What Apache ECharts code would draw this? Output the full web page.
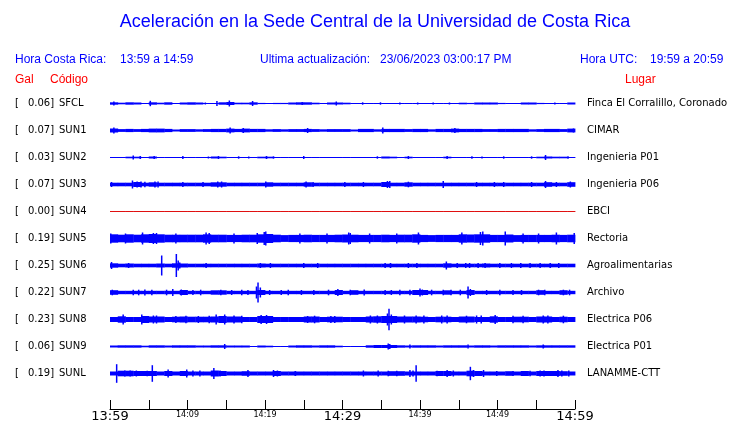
<!DOCTYPE html>
<html>
<head>
<meta charset="utf-8">
<script src="https://cdn.jsdelivr.net/npm/echarts@6/dist/echarts.min.js"></script>
<style>
  html, body { margin: 0; padding: 0; background: #fff; }
  #chart { width: 740px; height: 423px; }
</style>
</head>
<body>
<div id="chart"></div>
<script>
// estaciones (de arriba hacia abajo)
const codes = ['SFCL', 'SUN1', 'SUN2', 'SUN3', 'SUN4', 'SUN5', 'SUN6', 'SUN7', 'SUN8', 'SUN9', 'SUNL'];
const places = ['Finca El Corralillo, Coronado', 'CIMAR', 'Ingenieria P01', 'Ingenieria P06', 'EBCI', 'Rectoria',
  'Agroalimentarias', 'Archivo', 'Electrica P06', 'Electrica P01', 'LANAMME-CTT'];
const gal = ['0.06', '0.07', '0.03', '0.07', '0.00', '0.19', '0.25', '0.22', '0.23', '0.06', '0.19'];

// minutos desde 13:59, ticks cada 5 min
const tickMinutes = [0, 5, 10, 15, 20, 25, 30, 35, 40, 45, 50, 55, 60];
const tickLabels = { 0: '13:59', 10: '14:09', 20: '14:19', 30: '14:29', 40: '14:39', 50: '14:49', 60: '14:59' };
const bigLabels = [0, 30, 60];

// envolvente (semi-amplitud) por minuto, 60 valores por estacion
const envSFCL = [1.2, 0.8, 1.2, 1.0, 0, 1.2, 0.8, 1.2, 0, 1.0, 1.2, 1.0, 0, 0.4, 1.2, 1.5, 0.8, 0.8, 1.2, 0.6,
  0, 0.6, 0.6, 1.0, 1.2, 1.2, 0.8, 0, 1.0, 1.0, 0.8, 0, 0, 0, 0, 0, 0, 0, 0, 0,
  0, 0, 0, 0, 0, 0.8, 0.6, 1.0, 1.0, 1.0, 0.6, 0, 0, 1.0, 1.0, 0.6, 0, 0, 0, 1.0];
const envSUN1 = [2.0, 1.4, 1.6, 1.4, 1.6, 1.9, 1.9, 1.6, 1.0, 1.4, 1.4, 1.2, 1.4, 1.6, 1.6, 1.9, 1.6, 1.9, 1.6, 1.6,
  1.2, 1.4, 1.2, 1.4, 1.4, 1.6, 1.4, 1.2, 1.4, 1.4, 1.4, 1.0, 1.6, 1.6, 1.2, 1.6, 1.6, 1.6, 1.4, 1.6,
  1.6, 1.2, 1.6, 1.6, 1.9, 1.6, 1.6, 1.6, 1.4, 1.4, 1.6, 1.6, 1.6, 1.6, 1.2, 1.4, 1.6, 1.6, 1.4, 1.9];
const envSUN2 = [0, 0, 0.8, 0.8, 0, 1.0, 0, 0, 0, 0.5, 0, 0, 0, 1.0, 0.8, 0, 0.5, 0, 0, 0.8,
  0.8, 0, 0, 0, 0, 0, 0, 0, 0, 0, 0, 0, 0, 0, 0, 1.0, 0.8, 0, 0.8, 0.5,
  0.5, 0, 0, 0.8, 0.5, 0, 0, 0, 0.5, 0, 0, 0, 0, 0, 0, 0.8, 1.0, 0.8, 0.8, 0];
const envSUN3 = [1.8, 1.8, 1.8, 2.5, 1.8, 2.2, 1.8, 1.8, 1.8, 1.8, 1.8, 1.8, 1.8, 2.2, 2.2, 1.8, 1.8, 1.8, 1.8, 1.8,
  2.2, 1.8, 1.8, 1.8, 1.8, 2.2, 1.8, 1.8, 1.8, 1.8, 1.8, 1.8, 1.8, 1.8, 1.8, 2.5, 1.8, 1.8, 2.2, 1.8,
  1.8, 1.8, 1.8, 1.8, 1.8, 1.8, 1.8, 1.8, 1.8, 1.8, 1.8, 1.8, 1.8, 1.8, 1.8, 1.8, 2.3, 1.8, 1.8, 2.3];
const envSUN4 = [0, 0, 0, 0, 0, 0, 0, 0, 0, 0, 0, 0, 0, 0, 0, 0, 0, 0, 0, 0,
  0, 0, 0, 0, 0, 0, 0, 0, 0, 0, 0, 0, 0, 0, 0, 0, 0, 0, 0, 0,
  0, 0, 0, 0, 0, 0, 0, 0, 0, 0, 0, 0, 0, 0, 0, 0, 0, 0, 0, 0];
const envSUN5 = [4.2, 3.8, 4.2, 3.8, 4.2, 4.5, 4.2, 3.8, 3.8, 3.8, 3.8, 3.8, 4.2, 3.8, 3.8, 3.6, 3.6, 3.8, 3.8, 4.2,
  4.5, 3.8, 3.4, 3.6, 3.6, 3.8, 3.6, 3.6, 3.6, 3.8, 4.0, 3.8, 3.6, 3.6, 3.6, 3.8, 3.6, 3.8, 3.8, 4.2,
  3.6, 3.4, 3.6, 3.6, 3.6, 4.2, 4.0, 4.2, 4.2, 3.6, 3.6, 4.0, 3.4, 3.6, 3.6, 3.6, 3.6, 3.8, 3.6, 3.8];
const envSUN6 = [2.2, 1.8, 2.0, 1.8, 1.8, 1.8, 2.0, 1.8, 2.2, 2.0, 1.8, 1.8, 1.8, 1.8, 1.8, 1.8, 1.8, 1.8, 1.8, 2.0,
  1.8, 1.8, 1.8, 1.8, 1.8, 1.8, 1.8, 1.8, 1.8, 1.8, 1.8, 1.8, 1.8, 1.8, 1.8, 1.8, 1.8, 1.8, 1.8, 1.8,
  1.8, 1.8, 1.8, 2.2, 1.8, 1.8, 1.8, 1.8, 2.0, 1.8, 1.8, 1.8, 1.8, 1.8, 1.8, 1.8, 1.8, 1.8, 1.8, 1.8];
const envSUN7 = [2.3, 1.7, 1.7, 1.7, 1.7, 1.7, 1.7, 1.7, 1.7, 2.5, 1.7, 1.7, 1.7, 2.2, 2.2, 1.7, 1.7, 1.7, 1.7, 2.5,
  1.7, 1.7, 1.7, 1.7, 1.7, 1.7, 1.7, 1.7, 1.7, 2.5, 1.7, 2.3, 1.7, 1.7, 1.7, 1.7, 1.7, 1.7, 1.7, 2.5,
  2.5, 1.7, 1.7, 2.2, 1.7, 1.7, 2.5, 1.7, 1.7, 1.7, 1.7, 1.7, 1.7, 1.7, 1.7, 2.3, 1.7, 1.7, 2.3, 1.7];
const envSUN8 = [2.5, 3.2, 2.5, 2.5, 3.5, 3.0, 3.0, 2.5, 2.8, 3.0, 2.8, 2.8, 2.8, 3.0, 3.5, 3.0, 3.0, 2.5, 2.5, 3.5,
  3.5, 2.5, 2.5, 2.5, 2.5, 3.0, 3.0, 2.5, 2.8, 2.8, 2.5, 2.5, 2.5, 3.0, 3.2, 3.5, 3.5, 3.0, 3.0, 3.0,
  2.8, 2.5, 2.8, 2.8, 2.5, 3.0, 3.0, 2.5, 2.5, 3.2, 2.5, 2.5, 2.8, 2.8, 2.5, 3.0, 3.0, 2.5, 2.8, 2.5];
const envSUN9 = [1.0, 1.2, 1.2, 1.2, 0.8, 1.2, 1.2, 1.0, 1.2, 1.2, 1.2, 1.0, 1.0, 1.2, 1.2, 1.0, 1.0, 1.0, 0.5, 1.0,
  0.8, 0.5, 0.5, 1.0, 1.2, 1.2, 1.0, 1.2, 1.2, 0.8, 0.5, 0.3, 0.5, 1.2, 1.5, 1.5, 1.5, 1.2, 1.0, 1.2,
  1.2, 1.2, 1.0, 1.2, 1.2, 1.2, 1.0, 1.2, 1.2, 1.0, 1.2, 1.2, 1.2, 1.2, 1.0, 1.2, 1.2, 1.2, 1.2, 1.2];
const envSUNL = [2.0, 2.8, 2.8, 2.5, 2.5, 2.5, 2.0, 2.5, 2.0, 2.5, 2.0, 2.0, 2.0, 3.0, 2.5, 2.0, 2.0, 2.3, 2.0, 2.0,
  2.0, 2.5, 2.0, 2.0, 2.0, 2.0, 2.0, 2.0, 2.0, 2.0, 2.0, 2.0, 2.0, 2.0, 2.0, 2.0, 2.3, 2.3, 2.0, 2.0,
  2.0, 2.0, 2.5, 2.5, 2.0, 2.0, 2.8, 2.5, 2.0, 2.0, 2.0, 2.3, 2.0, 2.5, 2.0, 2.5, 2.5, 2.5, 2.3, 2.0];

// picos [minuto, semi-amplitud]
const pkSFCL = [[0.5, 2.0], [5.2, 2.7], [12.3, 1.0], [13.8, 2.5], [15.4, 3.0], [18.4, 2.5], [24.8, 1.5], [29.2, 2.0],
  [32.6, 1.2], [34.9, 1.2], [37.4, 1.0], [39.7, 1.0], [41.7, 1.0], [43.8, 1.0], [57.4, 1.0]];
const pkSUN1 = [[0.5, 3.0], [15.5, 3.0], [17.2, 2.5], [25.5, 2.5], [35.2, 3.0], [44.5, 2.5], [59.8, 2.0]];
const pkSUN2 = [[3.0, 2.0], [3.9, 1.5], [5.7, 1.5], [9.4, 1.5], [12.7, 1.0], [14.0, 1.5], [16.6, 1.2], [17.9, 1.0],
  [20.2, 1.5], [21.1, 1.2], [25.0, 1.5], [34.5, 1.2], [38.5, 1.5], [43.5, 1.5], [46.7, 1.2], [48.0, 1.0],
  [50.8, 1.2], [54.4, 1.2], [56.2, 2.5], [59.1, 1.2]];
const pkSUN3 = [[0.2, 2.5], [2.9, 4.0], [3.5, 3.0], [4.0, 3.0], [4.5, 2.8], [5.8, 3.0], [6.2, 3.0], [9.4, 2.5],
  [12.0, 2.5], [13.9, 3.0], [14.4, 3.0], [20.1, 3.0], [25.3, 3.0], [26.2, 2.5], [30.3, 2.5], [32.7, 2.5],
  [35.8, 3.5], [36.1, 3.5], [38.5, 2.8], [43.0, 3.5], [47.3, 2.5], [49.6, 2.5], [50.8, 2.5], [54.4, 2.5],
  [56.2, 3.5], [57.6, 2.5], [59.4, 3.0]];
const pkSUN4 = [];
const pkSUN5 = [[0.1, 5.0], [2.0, 5.0], [4.2, 6.0], [5.6, 5.5], [6.0, 5.5], [8.5, 5.0], [12.4, 6.0], [12.8, 5.5],
  [16.0, 5.0], [19.0, 5.5], [19.9, 6.5], [20.1, 7.0], [24.5, 5.0], [28.0, 5.0], [30.8, 6.0], [31.0, 5.5],
  [33.5, 5.0], [37.0, 5.0], [39.8, 6.0], [45.4, 6.0], [47.8, 6.5], [48.1, 7.0], [51.0, 7.0], [53.3, 5.0],
  [55.3, 5.0], [57.6, 6.0], [59.9, 5.5]];
const pkSUN6 = [[0.2, 3.5], [2.4, 2.5], [6.67, 10.0], [8.56, 11.5], [8.8, 5.0], [9.0, 3.0], [12.4, 2.5], [19.4, 2.5],
  [20.7, 2.5], [25.0, 2.5], [26.8, 2.5], [35.5, 2.5], [36.2, 2.5], [38.5, 2.5], [39.6, 2.5], [43.4, 4.0],
  [44.8, 2.5], [45.9, 2.5], [46.4, 2.5], [47.5, 2.5], [48.4, 2.5], [50.3, 2.5], [51.8, 2.5], [53.0, 2.5],
  [54.2, 2.5], [55.5, 2.5], [56.8, 2.5], [57.9, 2.5]];
const pkSUN7 = [[0.3, 2.8], [3.0, 2.8], [3.7, 2.8], [4.5, 3.0], [5.4, 2.8], [7.3, 2.8], [8.1, 3.5], [9.2, 3.0],
  [10.7, 2.5], [11.7, 2.8], [14.3, 2.8], [15.7, 2.5], [17.0, 2.8], [17.8, 2.5], [18.9, 6.0], [19.1, 10.0],
  [19.4, 5.0], [20.6, 2.5], [22.1, 2.5], [23.0, 2.8], [24.7, 2.5], [26.3, 2.5], [28.2, 2.8], [29.4, 3.5],
  [31.0, 2.8], [32.8, 3.0], [35.5, 2.5], [36.3, 2.5], [37.4, 2.8], [38.7, 2.8], [40.0, 4.0], [40.3, 3.0],
  [41.5, 2.8], [43.0, 2.8], [44.0, 2.8], [45.2, 2.8], [46.2, 6.0], [46.5, 3.5], [48.6, 2.5], [50.3, 2.8],
  [52.0, 2.5], [53.1, 2.5], [55.3, 2.8], [56.1, 2.8], [58.5, 2.8], [59.3, 2.8]];
const pkSUN8 = [[1.7, 5.0], [4.1, 5.0], [5.6, 4.0], [6.0, 4.0], [8.5, 3.5], [9.8, 3.8], [11.4, 3.5], [12.8, 3.8],
  [13.7, 5.0], [14.8, 5.0], [16.0, 4.0], [17.0, 3.8], [19.5, 4.5], [20.2, 4.5], [25.5, 3.5], [26.4, 3.8],
  [28.5, 3.5], [29.0, 3.5], [33.6, 4.0], [34.5, 4.0], [35.8, 6.0], [36.0, 10.7], [36.3, 5.0], [38.0, 4.0],
  [39.5, 4.0], [40.5, 4.0], [42.8, 4.0], [43.5, 4.0], [46.0, 3.8], [47.3, 4.0], [47.9, 4.0], [49.7, 4.5],
  [52.0, 3.8], [53.3, 3.8], [55.9, 4.0], [56.5, 4.0], [58.5, 3.8]];
const pkSUN9 = [[14.8, 2.5], [35.9, 3.0], [36.1, 2.5], [38.7, 2.0], [46.2, 2.0], [55.9, 2.0]];
const pkSUNL = [[0.86, 9.3], [1.9, 3.0], [2.6, 3.0], [3.4, 3.0], [4.8, 2.8], [5.46, 8.3], [7.5, 4.0], [9.9, 4.0],
  [10.7, 3.0], [11.6, 3.0], [13.4, 5.5], [14.2, 3.0], [17.8, 3.5], [21.1, 3.5], [21.6, 3.0], [23.9, 2.5],
  [32.7, 3.0], [34.6, 3.0], [35.9, 2.8], [37.0, 2.8], [38.7, 3.5], [39.1, 3.0], [39.5, 8.3], [42.2, 2.8],
  [43.5, 3.5], [44.3, 3.0], [46.5, 6.7], [46.9, 3.5], [48.2, 3.5], [49.9, 2.5], [52.0, 2.5], [54.2, 2.8],
  [55.5, 3.0], [56.0, 3.0], [57.8, 3.5], [58.3, 3.0], [59.2, 3.0]];

const envs = [envSFCL, envSUN1, envSUN2, envSUN3, envSUN4, envSUN5, envSUN6, envSUN7, envSUN8, envSUN9, envSUNL];
const peaks = [pkSFCL, pkSUN1, pkSUN2, pkSUN3, pkSUN4, pkSUN5, pkSUN6, pkSUN7, pkSUN8, pkSUN9, pkSUNL];

const BLUE = '#0000ff';
const RED = '#e01010';
const traceColor = codes.map(c => c === 'SUN4' ? RED : BLUE);
const gap = 27; // separacion entre trazas (unidades del eje y)
const baseOf = k => gap / 2 + gap * k;

const bandData = [];
envs.forEach((env, k) => env.forEach((a, m) => bandData.push([m, a, k])));
const peakData = [];
peaks.forEach((list, k) => list.forEach(p => peakData.push([p[0], p[1], k])));

function renderBand(params, api) {
  const m = api.value(0), a = api.value(1), k = api.value(2);
  const c = api.coord([m, baseOf(k)]);
  const x1 = api.coord([m + 1, baseOf(k)])[0];
  const top = api.coord([m, baseOf(k) - a])[1];
  const h = Math.max(c[1] - top, 0.5) * 2;
  return {
    type: 'rect',
    shape: { x: c[0], y: c[1] - h / 2, width: x1 - c[0] + 0.4, height: h },
    style: { fill: traceColor[k] }
  };
}

function renderPeak(params, api) {
  const m = api.value(0), a = api.value(1), k = api.value(2);
  const c = api.coord([m, baseOf(k)]);
  const top = api.coord([m, baseOf(k) - a])[1];
  const h = (c[1] - top) * 2;
  return {
    type: 'rect',
    shape: { x: c[0] - 0.75, y: c[1] - h / 2, width: 1.5, height: h },
    style: { fill: traceColor[k] }
  };
}

const hdrFont = '12px "Liberation Sans", Arial, sans-serif';
const hdr = (text, x, y, fill) => ({
  type: 'text', x: x, y: y,
  style: { text: text, font: hdrFont, fill: fill, verticalAlign: 'middle' }
});

const chart = echarts.init(document.getElementById('chart'), null, { renderer: 'canvas' });
chart.setOption({
  animation: false,
  backgroundColor: '#fff',
  graphic: [
    { type: 'text', x: 375, y: 22,
      style: { text: 'Aceleración en la Sede Central de la Universidad de Costa Rica',
        font: '18px "Liberation Sans", Arial, sans-serif', fill: BLUE, align: 'center', verticalAlign: 'middle' } },
    hdr('Hora Costa Rica:', 15, 60, BLUE),
    hdr('13:59 a 14:59', 120, 60, BLUE),
    hdr('Ultima actualización:', 260, 60, BLUE),
    hdr('23/06/2023 03:00:17 PM', 380, 60, BLUE),
    hdr('Hora UTC:', 580, 60, BLUE),
    hdr('19:59 a 20:59', 650, 60, BLUE),
    hdr('Gal', 15, 80, '#ff0000'),
    hdr('Código', 50, 80, '#ff0000'),
    hdr('Lugar', 625, 80, '#ff0000')
  ],
  grid: { left: 110, top: 90, width: 465, height: 297 },
  xAxis: {
    type: 'value', min: 0, max: 60, interval: 5, offset: 22, position: 'bottom',
    axisLine: { show: true, onZero: false, lineStyle: { color: '#000', width: 1 } },
    axisTick: { show: true, inside: true, length: 9, lineStyle: { color: '#000' } },
    splitLine: { show: false },
    axisLabel: {
      margin: 1, showMinLabel: true, showMaxLabel: true,
      formatter: v => tickLabels[v] ? (bigLabels.includes(v) ? '{big|' + tickLabels[v] + '}' : '{small|' + tickLabels[v] + '}') : '',
      rich: {
        big: { fontFamily: 'DejaVu Sans', fontSize: 13, color: '#000' },
        small: { fontFamily: 'DejaVu Sans', fontSize: 8, color: '#000', padding: [1, 0, 0, 0] }
      }
    }
  },
  yAxis: [
    { type: 'value', min: 0, max: gap * codes.length, inverse: true, show: false },
    {
      type: 'category', data: codes, inverse: true, position: 'left',
      axisLine: { show: false }, axisTick: { show: false }, splitLine: { show: false },
      axisLabel: {
        margin: 95, align: 'left',
        formatter: (v, i) => '{b|[}{v|' + gal[i] + ']}{c|' + v + '}',
        rich: {
          b: { width: 12, fontFamily: 'DejaVu Sans', fontSize: 10, color: '#000' },
          v: { width: 28, align: 'right', fontFamily: 'DejaVu Sans', fontSize: 10, color: '#000' },
          c: { padding: [0, 0, 0, 4], fontFamily: 'DejaVu Sans', fontSize: 10, color: '#000' }
        }
      }
    },
    {
      type: 'category', data: places, inverse: true, position: 'right',
      axisLine: { show: false }, axisTick: { show: false }, splitLine: { show: false },
      axisLabel: { margin: 12, fontFamily: 'DejaVu Sans', fontSize: 10, color: '#000' }
    }
  ],
  series: [
    { type: 'custom', name: 'envolvente', renderItem: renderBand, data: bandData,
      encode: { x: 0, y: 1 }, yAxisIndex: 0, clip: false },
    { type: 'custom', name: 'picos', renderItem: renderPeak, data: peakData,
      encode: { x: 0, y: 1 }, yAxisIndex: 0, clip: false }
  ]
});
</script>
</body>
</html>
